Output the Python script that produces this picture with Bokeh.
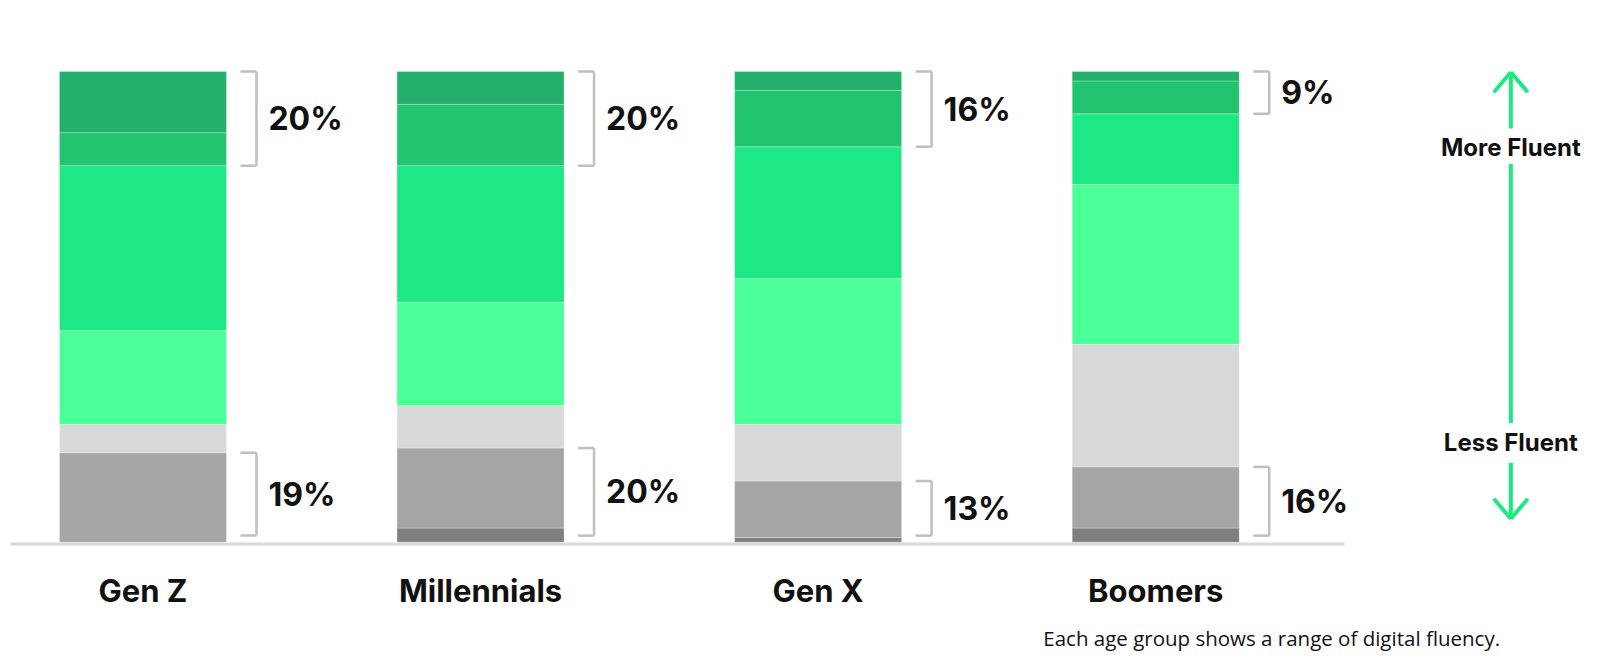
from bokeh.plotting import figure
from bokeh.models import ColumnDataSource, Range1d
from bokeh.core.properties import value
from bokeh.embed import file_html
from bokeh.resources import INLINE

# ---- data (share of each age group, %, bottom = least fluent) ----
categories = ["Gen Z", "Millennials", "Gen X", "Boomers"]
level1 = [0, 3, 1, 3]        # least fluent (dark grey)
level2 = [19, 17, 12, 13]    # grey
level3 = [6, 9, 12, 26]      # light grey
level4 = [20, 22, 31, 34]    # light green
level5 = [35, 29, 28, 15]    # green
level6 = [7, 13, 12, 7]      # mid-dark green
level7 = [13, 7, 4, 2]       # most fluent (dark green)
footnote = "Each age group shows a range of digital fluency."

levels = ["l1", "l2", "l3", "l4", "l5", "l6", "l7"]
colors = ["#7f7f7f", "#a5a5a5", "#d9d9d9", "#4bff99", "#1de984", "#22c46f", "#23b06b"]

xs = list(range(len(categories)))
src = ColumnDataSource(dict(x=xs, l1=level1, l2=level2, l3=level3, l4=level4,
                            l5=level5, l6=level6, l7=level7))

W, H = 1590, 652
X0, X1 = -0.422, 4.288
Y0, Y1 = -23.43, 115.08
PXX = W / (X1 - X0)
PXY = H / (Y1 - Y0)

p = figure(width=W, height=H, output_backend="svg", toolbar_location=None,
           x_range=Range1d(X0, X1), y_range=Range1d(Y0, Y1), min_border=0)
p.axis.visible = False
p.grid.visible = False
p.outline_line_color = None
p.background_fill_color = "white"

BAR_W = 167 / PXX
p.vbar_stack(levels, x="x", width=BAR_W, source=src, color=colors,
             line_color="white", line_alpha=0.25, line_width=1)

# baseline
p.segment(x0=[X0 + 10 / PXX], x1=[X0 + 1344 / PXX], y0=[-0.4], y1=[-0.4],
          line_color="#d9d9d9", line_width=3)

FONT = value("Inter")
# brackets and percentage labels
bot = [a + b for a, b in zip(level1, level2)]
top = [a + b for a, b in zip(level6, level7)]
right = [x + BAR_W / 2 for x in xs]
vx = [r + 30 / PXX for r in right]
tx = [r + 14 / PXX for r in right]
lx = [r + 42 / PXX for r in right]
br_col = "#bfbfbf"
blo = 1.4
# top brackets
p.segment(x0=vx, x1=vx, y0=[100] * 4, y1=[100 - t for t in top], line_color=br_col, line_width=2.5)
p.segment(x0=tx, x1=vx, y0=[100] * 4, y1=[100] * 4, line_color=br_col, line_width=2.5)
p.segment(x0=tx, x1=vx, y0=[100 - t for t in top], y1=[100 - t for t in top], line_color=br_col, line_width=2.5)
# bottom brackets
p.segment(x0=vx, x1=vx, y0=bot, y1=[blo] * 4, line_color=br_col, line_width=2.5)
p.segment(x0=tx, x1=vx, y0=bot, y1=bot, line_color=br_col, line_width=2.5)
p.segment(x0=tx, x1=vx, y0=[blo] * 4, y1=[blo] * 4, line_color=br_col, line_width=2.5)

p.text(x=lx, y=[100 - t / 2 for t in top], text=[f"{t}%" for t in top],
       text_font=FONT, text_font_style="bold", text_font_size="32px",
       text_baseline="middle", text_align="left", text_color="#111111")
p.text(x=lx, y=[(b + blo) / 2 for b in bot], text=[f"{b}%" for b in bot],
       text_font=FONT, text_font_style="bold", text_font_size="32px",
       text_baseline="middle", text_align="left", text_color="#111111")

# category labels
p.text(x=xs, y=[-10.3] * 4, text=categories, text_font=FONT, text_font_style="bold",
       text_font_size="31px", text_baseline="middle", text_align="center",
       text_color="#111111")

# fluency arrow
AX = 4.052
ac = "#1de984"
p.segment(x0=[AX] * 3, x1=[AX] * 3, y0=[99.85, 80.4, 16.87], y1=[87.9, 25.3, 4.97],
          line_color=ac, line_width=4)
hw, hh = 17 / PXX, 20 / PXY
p.segment(x0=[AX, AX, AX, AX], y0=[99.85, 99.85, 4.97, 4.97],
          x1=[AX - hw, AX + hw, AX - hw, AX + hw],
          y1=[99.85 - hh, 99.85 - hh, 4.97 + hh, 4.97 + hh],
          line_color=ac, line_width=4)
p.text(x=[AX, AX], y=[83.8, 21.1], text=["More Fluent", "Less Fluent"],
       text_font=FONT, text_font_style="bold", text_font_size="24px",
       text_baseline="middle", text_align="center", text_color="#111111")

# footnote
p.text(x=[2.667], y=[-20.3], text=[footnote], text_font=value("Open Sans"),
       text_font_size="20.5px", text_baseline="middle", text_align="left",
       text_color="#111111")

open("out.html", "w").write(file_html(p, INLINE))
